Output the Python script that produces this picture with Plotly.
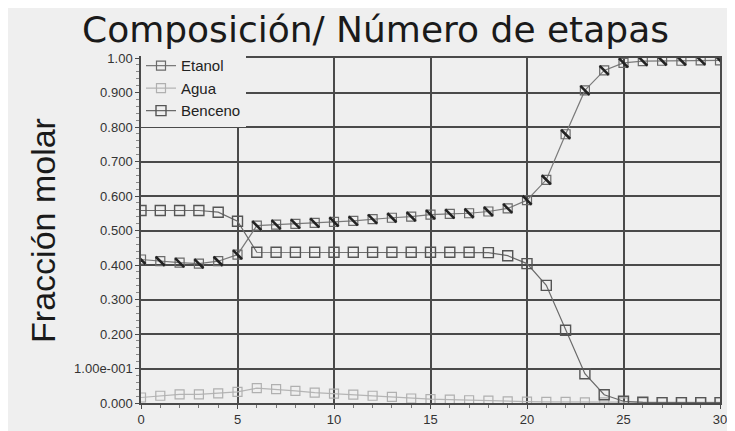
import plotly.graph_objects as go

# etapas (stage number) and molar fractions
etapas = list(range(0, 31))

etanol = [0.416, 0.411, 0.407, 0.404, 0.411, 0.430, 0.514, 0.517, 0.519, 0.522,
          0.525, 0.528, 0.533, 0.537, 0.540, 0.546, 0.548, 0.550, 0.555, 0.564,
          0.588, 0.647, 0.779, 0.906, 0.964, 0.986, 0.991, 0.992, 0.992, 0.993,
          0.993]

agua = [0.016, 0.021, 0.025, 0.025, 0.028, 0.032, 0.043, 0.040, 0.035, 0.030,
        0.027, 0.024, 0.021, 0.018, 0.013, 0.011, 0.010, 0.008, 0.007, 0.005,
        0.004, 0.003, 0.003, 0.002, 0.002, 0.002, 0.002, 0.002, 0.002, 0.002,
        0.002]

benceno = [0.558, 0.558, 0.558, 0.558, 0.553, 0.527, 0.437, 0.437, 0.437, 0.437,
           0.437, 0.437, 0.437, 0.437, 0.437, 0.437, 0.437, 0.437, 0.436, 0.427,
           0.404, 0.341, 0.211, 0.085, 0.024, 0.005, 0.002, 0.001, 0.001, 0.001,
           0.001]

y_ticks = [0.0, 0.1, 0.2, 0.3, 0.4, 0.5, 0.6, 0.7, 0.8, 0.9, 1.0]
y_labels = ["0.000", "1.00e-001", "0.200", "0.300", "0.400", "0.500",
            "0.600", "0.700", "0.800", "0.900", "1.00"]

BG = "#efefef"
GRID = "#4a4a4a"

fig = go.Figure()

# Etanol: line + open squares, then a diagonal stroke on top of each square
fig.add_trace(go.Scatter(
    x=etapas, y=etanol, name="Etanol", mode="lines+markers",
    line=dict(color="#7a7a7a", width=1.2),
    marker=dict(symbol="square-open", size=9, color="#6a6a6a", line=dict(width=1.2)),
))
fig.add_trace(go.Scatter(
    x=etapas, y=etanol, mode="markers", showlegend=False, hoverinfo="skip",
    marker=dict(symbol="line-nw", size=9, line=dict(color="#222222", width=2.6)),
))

fig.add_trace(go.Scatter(
    x=etapas, y=agua, name="Agua", mode="lines+markers",
    line=dict(color="#b5b5b5", width=1.2),
    marker=dict(symbol="square-open", size=9, color="#b0b0b0", line=dict(width=1.2)),
))

fig.add_trace(go.Scatter(
    x=etapas, y=benceno, name="Benceno", mode="lines+markers",
    line=dict(color="#6a6a6a", width=1.2),
    marker=dict(symbol="square-open", size=10, color="#555555", line=dict(width=1.4)),
))

fig.update_layout(
    width=735, height=431,
    margin=dict(l=133, r=23, t=50, b=27),
    paper_bgcolor=BG, plot_bgcolor=BG,
    font=dict(family="Liberation Sans, Arial, sans-serif", color="#333333", size=13),
    title=dict(text="Composición/ Número de etapas", x=0.5, xanchor="center",
               y=0.950, yanchor="middle",
               font=dict(size=36, color="#1a1a1a", family="DejaVu Sans")),
    showlegend=True,
    legend=dict(x=0.0, y=1.025, xanchor="left", yanchor="top",
                bgcolor=BG, borderwidth=0, font=dict(size=15, color="#222222"),
                itemwidth=30, tracegroupgap=0),
)

fig.update_xaxes(
    range=[0, 30], tickvals=[0, 5, 10, 15, 20, 25, 30],
    showgrid=True, gridcolor=GRID, gridwidth=1.5,
    showline=True, linecolor=GRID, linewidth=1.5, mirror=True,
    ticks="outside", ticklen=4, tickcolor=GRID,
    minor=dict(dtick=1, ticks="outside", ticklen=3, tickcolor="#777777", showgrid=False),
    zeroline=False, tickfont=dict(size=13, color="#333333"),
)

fig.update_yaxes(
    range=[0, 1.0], tickvals=y_ticks, ticktext=y_labels,
    showgrid=True, gridcolor=GRID, gridwidth=1.5,
    showline=True, linecolor=GRID, linewidth=1.5, mirror=True,
    ticks="outside", ticklen=4, tickcolor=GRID,
    minor=dict(dtick=0.02, ticks="outside", ticklen=3, tickcolor="#888888", showgrid=False),
    zeroline=False, tickfont=dict(size=13, color="#333333"),
    title=dict(text="Fracción molar", font=dict(size=34, color="#1a1a1a"), standoff=8),
)

fig.write_html("out.html")
